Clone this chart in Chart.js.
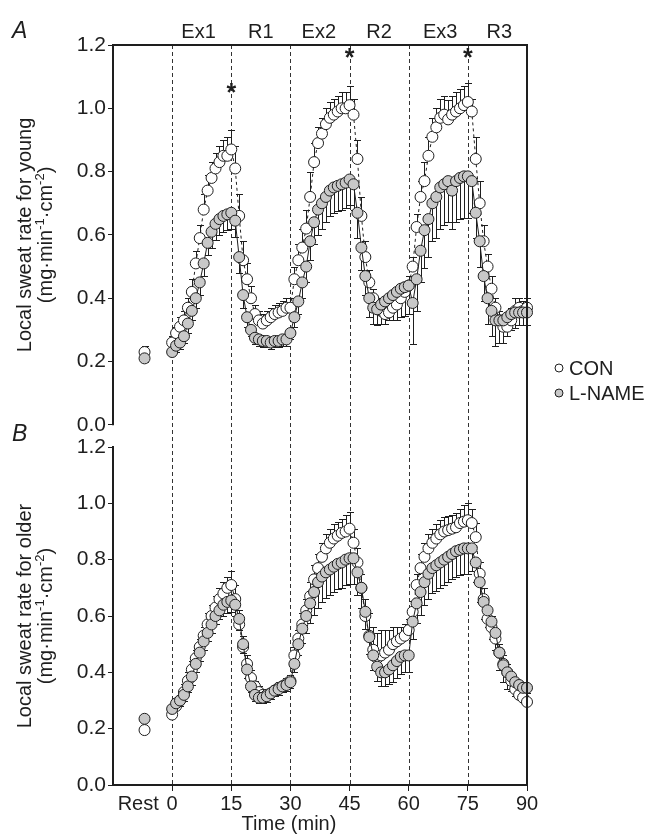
<!DOCTYPE html>
<html>
<head>
<meta charset="utf-8">
<script src="https://cdn.jsdelivr.net/npm/chart.js"></script>
<style>
  html, body { margin: 0; padding: 0; background: #fff; }
</style>
</head>
<body>
<canvas id="sweat" width="650" height="834"></canvas>
<script>
// minutes 0..90, one sample per minute
const minutes = Array.from({ length: 91 }, (_, i) => i);

// Panel A (young): CON means + SE (drawn up), L-NAME means + SE (drawn down)
const conA = [
  0.26, 0.29, 0.31, 0.33, 0.37, 0.42, 0.51, 0.59, 0.68, 0.74, 0.78, 0.81, 0.83, 0.85, 0.85, 0.87,
  0.81, 0.66, 0.52, 0.46, 0.40, 0.35, 0.33, 0.32, 0.33, 0.34, 0.35, 0.355, 0.36, 0.37, 0.37,
  0.46, 0.52, 0.56, 0.62, 0.72, 0.83, 0.89, 0.92, 0.95, 0.97, 0.98, 0.99, 1.00, 1.00, 1.01,
  0.98, 0.84, 0.66, 0.53, 0.45, 0.40, 0.37, 0.36, 0.35, 0.355, 0.37, 0.38, 0.40, 0.42, 0.44,
  0.50, 0.625, 0.72, 0.77, 0.85, 0.91, 0.94, 0.97, 0.98, 0.965, 0.98, 0.99, 1.00, 1.01, 1.02,
  0.99, 0.84, 0.70, 0.58, 0.50, 0.43, 0.37, 0.33, 0.31, 0.31, 0.33, 0.36, 0.37, 0.36, 0.37
];
const conAErr = [
  0.02, 0.02, 0.03, 0.03, 0.03, 0.04, 0.04, 0.04, 0.05, 0.05, 0.05, 0.05, 0.05, 0.05, 0.06, 0.06,
  0.07, 0.07, 0.06, 0.05, 0.04, 0.03, 0.03, 0.03, 0.03, 0.03, 0.03, 0.03, 0.03, 0.03, 0.03,
  0.04, 0.05, 0.06, 0.06, 0.08, 0.06, 0.05, 0.05, 0.05, 0.05, 0.05, 0.05, 0.05, 0.05, 0.06,
  0.05, 0.06, 0.06, 0.05, 0.04, 0.03, 0.03, 0.03, 0.03, 0.03, 0.03, 0.03, 0.03, 0.03, 0.03,
  0.03, 0.04, 0.05, 0.06, 0.06, 0.06, 0.06, 0.06, 0.06, 0.06, 0.06, 0.06, 0.06, 0.06, 0.06,
  0.04, 0.07, 0.07, 0.05, 0.04, 0.04, 0.03, 0.03, 0.03, 0.04, 0.04, 0.04, 0.03, 0.03, 0.03
];
const lnA = [
  0.23, 0.25, 0.26, 0.28, 0.32, 0.36, 0.40, 0.45, 0.51, 0.575, 0.61, 0.635, 0.65, 0.66, 0.665, 0.67,
  0.645, 0.53, 0.41, 0.34, 0.30, 0.275, 0.27, 0.265, 0.265, 0.26, 0.265, 0.265, 0.27, 0.27, 0.29,
  0.34, 0.39, 0.45, 0.50, 0.58, 0.64, 0.68, 0.70, 0.72, 0.74, 0.75, 0.755, 0.76, 0.765, 0.775,
  0.76, 0.67, 0.56, 0.47, 0.40, 0.37, 0.365, 0.38, 0.39, 0.40, 0.41, 0.42, 0.43, 0.435, 0.44,
  0.385, 0.46, 0.55, 0.615, 0.65, 0.70, 0.72, 0.75, 0.76, 0.77, 0.74, 0.77, 0.78, 0.785, 0.785,
  0.77, 0.67, 0.58, 0.47, 0.40, 0.36, 0.33, 0.33, 0.33, 0.34, 0.35, 0.355, 0.355, 0.355, 0.355
];
const lnAErr = [
  0.01, 0.02, 0.02, 0.02, 0.03, 0.03, 0.03, 0.04, 0.04, 0.04, 0.05, 0.05, 0.05, 0.05, 0.05, 0.05,
  0.05, 0.05, 0.04, 0.03, 0.02, 0.02, 0.02, 0.02, 0.02, 0.02, 0.02, 0.02, 0.02, 0.02, 0.02,
  0.03, 0.04, 0.05, 0.05, 0.06, 0.07, 0.08, 0.08, 0.08, 0.08, 0.08, 0.08, 0.08, 0.08, 0.08,
  0.08, 0.08, 0.07, 0.06, 0.06, 0.05, 0.05, 0.06, 0.07, 0.07, 0.08, 0.09, 0.09, 0.09, 0.09,
  0.13, 0.10, 0.10, 0.12, 0.12, 0.12, 0.13, 0.13, 0.13, 0.13, 0.12, 0.13, 0.13, 0.13, 0.13,
  0.10, 0.08, 0.08, 0.08, 0.08, 0.08, 0.08, 0.07, 0.07, 0.06, 0.05, 0.05, 0.04, 0.04, 0.04
];

// Panel B (older)
const conB = [
  0.25, 0.28, 0.30, 0.33, 0.37, 0.41, 0.45, 0.49, 0.53, 0.57, 0.60, 0.63, 0.66, 0.68, 0.70, 0.71,
  0.66, 0.57, 0.49, 0.43, 0.38, 0.35, 0.33, 0.32, 0.32, 0.325, 0.335, 0.345, 0.35, 0.36, 0.37,
  0.46, 0.52, 0.57, 0.62, 0.67, 0.73, 0.77, 0.81, 0.84, 0.86, 0.875, 0.885, 0.895, 0.90, 0.91,
  0.86, 0.79, 0.70, 0.60, 0.53, 0.48, 0.45, 0.46, 0.47, 0.48, 0.50, 0.51, 0.52, 0.53, 0.55,
  0.615, 0.71, 0.77, 0.81, 0.84, 0.86, 0.875, 0.89, 0.90, 0.905, 0.91, 0.915, 0.93, 0.935, 0.94,
  0.93, 0.88, 0.75, 0.66, 0.59, 0.56, 0.52, 0.47, 0.43, 0.40, 0.37, 0.34, 0.32, 0.31, 0.295
];
const conBErr = [
  0.02, 0.02, 0.02, 0.03, 0.03, 0.03, 0.03, 0.03, 0.03, 0.04, 0.04, 0.04, 0.04, 0.04, 0.04, 0.05,
  0.05, 0.05, 0.04, 0.03, 0.03, 0.02, 0.02, 0.02, 0.02, 0.02, 0.02, 0.02, 0.02, 0.02, 0.02,
  0.03, 0.03, 0.04, 0.04, 0.05, 0.05, 0.05, 0.05, 0.05, 0.05, 0.05, 0.05, 0.05, 0.06, 0.06,
  0.05, 0.05, 0.05, 0.06, 0.08, 0.08, 0.09, 0.09, 0.08, 0.07, 0.06, 0.05, 0.04, 0.04, 0.04,
  0.04, 0.04, 0.05, 0.05, 0.05, 0.05, 0.05, 0.05, 0.05, 0.05, 0.05, 0.05, 0.05, 0.06, 0.06,
  0.05, 0.05, 0.04, 0.04, 0.04, 0.04, 0.03, 0.03, 0.03, 0.03, 0.03, 0.03, 0.03, 0.03, 0.03
];
const lnB = [
  0.27, 0.29, 0.30, 0.32, 0.35, 0.385, 0.43, 0.47, 0.51, 0.54, 0.57, 0.60, 0.62, 0.64, 0.65, 0.655,
  0.64, 0.59, 0.50, 0.41, 0.35, 0.32, 0.31, 0.31, 0.315, 0.325, 0.335, 0.34, 0.35, 0.355, 0.365,
  0.43, 0.50, 0.555, 0.60, 0.645, 0.685, 0.72, 0.74, 0.755, 0.765, 0.775, 0.785, 0.79, 0.80, 0.805,
  0.805, 0.755, 0.70, 0.615, 0.525, 0.46, 0.42, 0.40, 0.40, 0.41, 0.425, 0.44, 0.455, 0.46, 0.46,
  0.58, 0.645, 0.685, 0.72, 0.75, 0.77, 0.78, 0.79, 0.80, 0.81, 0.82, 0.83, 0.835, 0.84, 0.84,
  0.84, 0.79, 0.72, 0.65, 0.62, 0.58, 0.54, 0.47, 0.425, 0.40, 0.385, 0.365, 0.355, 0.345, 0.345
];
const lnBErr = [
  0.02, 0.02, 0.02, 0.02, 0.02, 0.03, 0.03, 0.03, 0.03, 0.03, 0.03, 0.03, 0.03, 0.04, 0.04, 0.04,
  0.04, 0.04, 0.03, 0.03, 0.02, 0.02, 0.02, 0.02, 0.02, 0.02, 0.02, 0.02, 0.02, 0.02, 0.02,
  0.03, 0.04, 0.05, 0.06, 0.07, 0.08, 0.09, 0.09, 0.09, 0.09, 0.09, 0.09, 0.09, 0.09, 0.09,
  0.09, 0.08, 0.07, 0.06, 0.06, 0.05, 0.05, 0.05, 0.05, 0.05, 0.06, 0.06, 0.06, 0.06, 0.06,
  0.06, 0.07, 0.08, 0.08, 0.09, 0.09, 0.09, 0.09, 0.09, 0.09, 0.09, 0.09, 0.09, 0.09, 0.09,
  0.08, 0.07, 0.07, 0.06, 0.06, 0.06, 0.06, 0.06, 0.06, 0.06, 0.05, 0.05, 0.05, 0.05, 0.05
];

// resting values (plotted left of time 0)
const restX = -7;
const restCon = [0.23, 0.195];   // young, older
const restConErr = [0.02, 0];
const restLn = [0.21, 0.235];
const restLnErr = [0.01, 0];

// axes, phases, significance marks
const xTicks = [-8.6, 0, 15, 30, 45, 60, 75, 90];
const restTick = -8.6;
const yTicks = [0, 0.2, 0.4, 0.6, 0.8, 1.0, 1.2];
const phaseLines = [0, 15, 30, 45, 60, 75];
const phaseNames = ['Ex1', 'R1', 'Ex2', 'R2', 'Ex3', 'R3'];
const phaseMid = [6.7, 22.5, 37.2, 52.5, 68, 83];
const starX = [15, 45, 75];
const starY = [1.07, 1.18, 1.18];

const FONT = '"Liberation Sans", Arial, Helvetica, sans-serif';
const INK = '#1e1e1e';
const GRAY = '#c8c8c8';

const makeSeries = (label, vals, errs, dir, axis, fill, dash, order) => ({
  label,
  data: minutes.map((m, i) => ({ x: m, y: vals[i] })),
  errs, dir,
  yAxisID: axis,
  showLine: true,
  borderColor: INK,
  borderWidth: 1,
  borderDash: dash,
  pointRadius: 5.5,
  pointBorderWidth: 1,
  pointBorderColor: INK,
  pointBackgroundColor: fill,
  order,
  clip: false,
});

const makeRest = (label, val, err, dir, axis, fill, order) => ({
  label,
  data: [{ x: restX, y: val }],
  errs: [err], dir,
  yAxisID: axis,
  showLine: false,
  pointRadius: 5.5,
  pointBorderWidth: 1,
  pointBorderColor: INK,
  pointBackgroundColor: fill,
  order,
});

const px = v => Math.round(v) + 0.5;

const decorations = {
  id: 'decorations',
  beforeDatasetsDraw(chart) {
    const { ctx, chartArea } = chart;
    const xs = chart.scales.x;
    ctx.save();
    // phase separators
    ctx.strokeStyle = '#333';
    ctx.lineWidth = 1;
    ctx.setLineDash([4, 3]);
    phaseLines.forEach(t => {
      const x = px(xs.getPixelForValue(t));
      ctx.beginPath();
      ctx.moveTo(x, chartArea.top);
      ctx.lineTo(x, chartArea.bottom);
      ctx.stroke();
    });
    ctx.setLineDash([]);
    // error bars
    ctx.strokeStyle = INK;
    chart.data.datasets.forEach(ds => {
      const ys = chart.scales[ds.yAxisID];
      ds.data.forEach((p, i) => {
        const e = ds.errs[i];
        if (!e) return;
        const x = px(xs.getPixelForValue(p.x));
        const y0 = ys.getPixelForValue(p.y);
        const y1 = px(ys.getPixelForValue(p.y + ds.dir * e));
        ctx.beginPath();
        ctx.moveTo(x, y0);
        ctx.lineTo(x, y1);
        ctx.moveTo(x - 3.5, y1);
        ctx.lineTo(x + 3.5, y1);
        ctx.stroke();
      });
    });
    ctx.restore();
  },
  afterDraw(chart) {
    const { ctx, chartArea } = chart;
    const xs = chart.scales.x, yA = chart.scales.yA, yB = chart.scales.yB;
    ctx.save();
    // frame: top of panel A, right side, left axis of panel A
    ctx.strokeStyle = INK;
    ctx.lineWidth = 2;
    ctx.beginPath();
    ctx.moveTo(chartArea.left, yA.getPixelForValue(0) + 0.5);
    ctx.lineTo(chartArea.left, chartArea.top);
    ctx.lineTo(chartArea.right, chartArea.top);
    ctx.lineTo(chartArea.right, chartArea.bottom);
    ctx.stroke();

    ctx.fillStyle = INK;
    // phase names
    ctx.font = '20px ' + FONT;
    ctx.textAlign = 'center';
    ctx.textBaseline = 'alphabetic';
    phaseNames.forEach((n, i) => ctx.fillText(n, xs.getPixelForValue(phaseMid[i]), 38));
    // asterisks
    ctx.font = 'bold 25px ' + FONT;
    starX.forEach((t, i) => ctx.fillText('*', xs.getPixelForValue(t), yA.getPixelForValue(starY[i]) + 15));
    // panel letters
    ctx.font = 'italic 23px ' + FONT;
    ctx.textAlign = 'left';
    ctx.fillText('A', 12, 38);
    ctx.fillText('B', 12, 441);
    // x title
    ctx.font = '20px ' + FONT;
    ctx.textAlign = 'center';
    ctx.fillText('Time (min)', 289, 830);
    // y titles
    const units = [{ t: '(mg\u00b7min' }, { t: '-1', sup: true }, { t: '\u00b7cm' }, { t: '-2', sup: true }, { t: ')' }];
    const midA = (yA.getPixelForValue(1.2) + yA.getPixelForValue(0)) / 2;
    const midB = (yB.getPixelForValue(1.2) + yB.getPixelForValue(0)) / 2;
    drawRotated(ctx, 25, midA, [{ t: 'Local sweat rate for young' }]);
    drawRotated(ctx, 46, midA, units);
    drawRotated(ctx, 25, midB, [{ t: 'Local sweat rate for older' }]);
    drawRotated(ctx, 46, midB, units);
    // legend
    const legend = [['CON', '#fff', 368], ['L-NAME', GRAY, 393]];
    legend.forEach(([name, fill, y]) => {
      ctx.beginPath();
      ctx.arc(559, y, 4, 0, Math.PI * 2);
      ctx.fillStyle = fill;
      ctx.fill();
      ctx.lineWidth = 1;
      ctx.strokeStyle = INK;
      ctx.stroke();
      ctx.fillStyle = INK;
      ctx.font = '20px ' + FONT;
      ctx.textAlign = 'left';
      ctx.textBaseline = 'middle';
      ctx.fillText(name, 569, y + 1);
    });
    ctx.restore();
  }
};

function drawRotated(ctx, cx, cy, segs) {
  ctx.save();
  ctx.translate(cx, cy);
  ctx.rotate(-Math.PI / 2);
  ctx.fillStyle = INK;
  ctx.textAlign = 'left';
  ctx.textBaseline = 'middle';
  let total = 0;
  segs.forEach(s => {
    ctx.font = (s.sup ? '13px ' : '20px ') + FONT;
    s.w = ctx.measureText(s.t).width;
    total += s.w;
  });
  let x = -total / 2;
  segs.forEach(s => {
    ctx.font = (s.sup ? '13px ' : '20px ') + FONT;
    ctx.fillText(s.t, x, s.sup ? -6 : 0);
    x += s.w;
  });
  ctx.restore();
}

const tickFont = { family: FONT, size: 20 };

new Chart(document.getElementById('sweat'), {
  type: 'scatter',
  data: {
    datasets: [
      makeSeries('L-NAME young', lnA, lnAErr, -1, 'yA', GRAY, [], 1),
      makeSeries('CON young', conA, conAErr, 1, 'yA', '#fff', [3, 3], 2),
      makeSeries('L-NAME older', lnB, lnBErr, -1, 'yB', GRAY, [], 1),
      makeSeries('CON older', conB, conBErr, 1, 'yB', '#fff', [3, 3], 2),
      makeRest('L-NAME young rest', restLn[0], restLnErr[0], -1, 'yA', GRAY, 1),
      makeRest('CON young rest', restCon[0], restConErr[0], 1, 'yA', '#fff', 2),
      makeRest('L-NAME older rest', restLn[1], restLnErr[1], -1, 'yB', GRAY, 1),
      makeRest('CON older rest', restCon[1], restConErr[1], 1, 'yB', '#fff', 2),
    ]
  },
  options: {
    responsive: false,
    animation: false,
    devicePixelRatio: 1,
    events: [],
    layout: { padding: { top: 45, right: 123, left: 0, bottom: 0 } },
    elements: { line: { tension: 0 } },
    plugins: { legend: { display: false }, tooltip: { enabled: false } },
    scales: {
      x: {
        type: 'linear',
        min: -15,
        max: 90,
        afterBuildTicks: s => { s.ticks = xTicks.map(v => ({ value: v })); },
        afterFit: s => { s.height = 49; },
        ticks: {
          font: tickFont, color: INK, padding: 1, maxRotation: 0, autoSkip: false,
          callback: v => (v === restTick ? 'Rest' : String(v)),
        },
        grid: {
          drawOnChartArea: false, tickLength: 6, lineWidth: 1,
          tickColor: c => (c.tick && c.tick.value === restTick ? 'rgba(0,0,0,0)' : INK),
        },
        border: { color: INK, width: 2 },
      },
      yA: {
        type: 'linear',
        position: 'left',
        stack: 'panels',
        stackWeight: 402,
        weight: 2,
        min: -0.07,
        max: 1.2,
        afterBuildTicks: s => { s.ticks = yTicks.map(v => ({ value: v })); },
        afterFit: s => { s.width = 113; },
        ticks: { font: { family: FONT, size: 21 }, color: INK, padding: 2, callback: v => v.toFixed(1) },
        grid: { drawOnChartArea: false, tickLength: 5, tickColor: INK, lineWidth: 1 },
        border: { display: false },
      },
      yB: {
        type: 'linear',
        position: 'left',
        stack: 'panels',
        stackWeight: 338,
        weight: 1,
        min: 0,
        max: 1.2,
        afterBuildTicks: s => { s.ticks = yTicks.map(v => ({ value: v })); },
        afterFit: s => { s.width = 113; },
        ticks: { font: { family: FONT, size: 21 }, color: INK, padding: 2, callback: v => v.toFixed(1) },
        grid: { drawOnChartArea: false, tickLength: 5, tickColor: INK, lineWidth: 1 },
        border: { color: INK, width: 2 },
      },
    }
  },
  plugins: [decorations]
});
</script>
</body>
</html>
